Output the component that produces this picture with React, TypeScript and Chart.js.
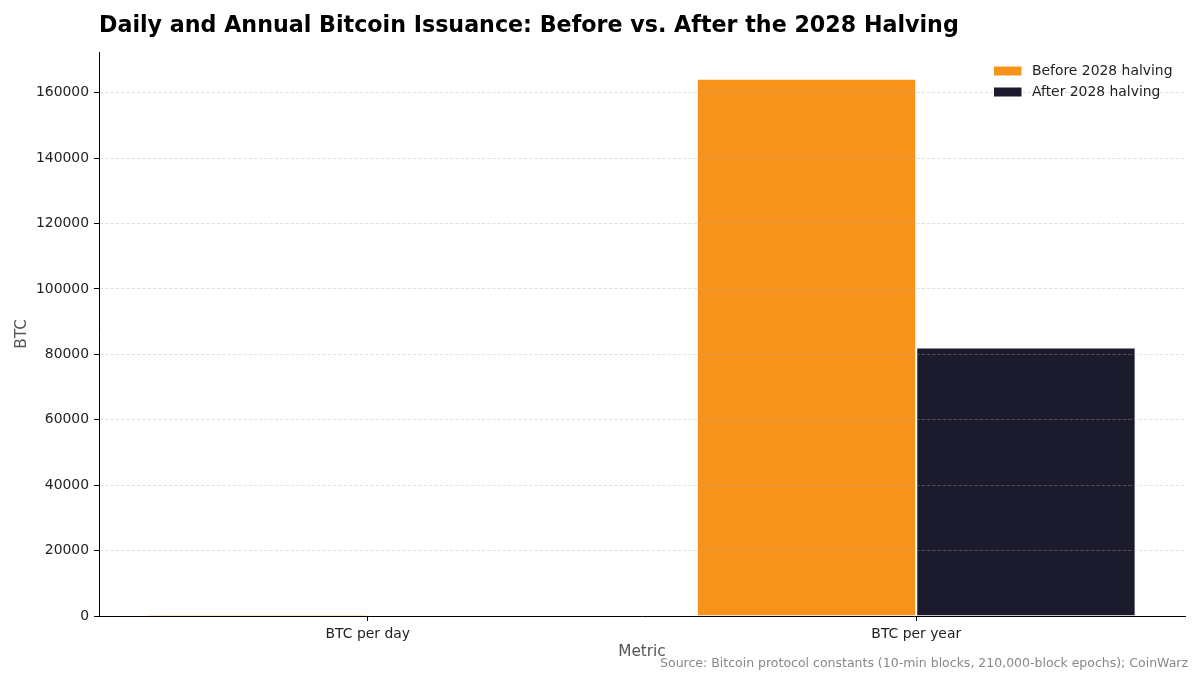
import { useEffect, useRef } from "react";
import { Chart, registerables } from "chart.js";
import type { ChartConfiguration, Plugin } from "chart.js";

Chart.register(...registerables);

const FONT = "'DejaVu Sans', Verdana, sans-serif";

const METRICS = ["BTC per day", "BTC per year"];
const beforeHalving = [450, 164250];
const afterHalving = [225, 82125];
const SERIES_LABELS = ["Before 2028 halving", "After 2028 halving"];
const SERIES_COLORS = ["#f7931a", "#1c1b2e"];
const Y_TICKS = [0, 20000, 40000, 60000, 80000, 100000, 120000, 140000, 160000];

const TITLE = "Daily and Annual Bitcoin Issuance: Before vs. After the 2028 Halving";
const SOURCE = "Source: Bitcoin protocol constants (10-min blocks, 210,000-block epochs); CoinWarz";

// title, footnote and the in-plot legend (matplotlib style)
const textPlugin: Plugin<"bar"> = {
  id: "textBits",
  afterDraw(chart) {
    const { ctx, chartArea } = chart;
    ctx.save();
    ctx.fillStyle = "#000";
    ctx.font = `bold 22.2px ${FONT}`;
    ctx.textAlign = "left";
    ctx.textBaseline = "middle";
    ctx.fillText(TITLE, chartArea.left, 26);

    ctx.fillStyle = "#888";
    ctx.font = `12.5px ${FONT}`;
    ctx.textAlign = "right";
    ctx.fillText(SOURCE, 1188, 664);

    // legend
    const bx = chartArea.right - 191;
    chart.data.datasets.forEach((ds, i) => {
      const cy = chartArea.top + 19 + i * 21;
      ctx.fillStyle = ds.backgroundColor as string;
      ctx.fillRect(bx, cy - 4.5, 27.5, 9);
      ctx.fillStyle = "#222";
      ctx.font = `13.9px ${FONT}`;
      ctx.textAlign = "left";
      ctx.fillText(String(ds.label), bx + 38, cy);
    });
    ctx.restore();
  },
};

export default function App() {
  const canvasRef = useRef<HTMLCanvasElement | null>(null);

  useEffect(() => {
    Chart.defaults.font.family = FONT;
    const ctx = canvasRef.current!.getContext("2d")!;

    const config: ChartConfiguration<"bar", number[], string> = {
      type: "bar",
      data: {
        labels: METRICS,
        datasets: [
          {
            label: SERIES_LABELS[0],
            data: beforeHalving,
            backgroundColor: SERIES_COLORS[0],
            borderColor: "#ffffff",
            borderWidth: 1,
            barPercentage: 1,
            categoryPercentage: 0.8,
          },
          {
            label: SERIES_LABELS[1],
            data: afterHalving,
            backgroundColor: SERIES_COLORS[1],
            borderColor: "#ffffff",
            borderWidth: 1,
            barPercentage: 1,
            categoryPercentage: 0.8,
          },
        ],
      },
      options: {
        responsive: true,
        maintainAspectRatio: false,
        animation: false,
        layout: { padding: { top: 52, right: 15, left: 0, bottom: 0 } },
        plugins: {
          legend: { display: false },
          tooltip: { enabled: false },
          title: { display: false },
        },
        scales: {
          x: {
            type: "category",
            offset: true,
            afterFit: (s) => { s.height = 59; },
            // matplotlib-like margins: x range -0.49 .. 1.49
            afterBuildTicks: (s: any) => { s._startValue = -0.49; s._valueRange = 1.98; },
            grid: { display: true, offset: false, drawOnChartArea: false, drawTicks: true, tickLength: 5, tickColor: "#000" },
            border: { display: true, color: "#000", width: 1, z: 2 },
            ticks: { color: "#222", font: { size: 13.9 }, padding: 5 },
            title: {
              display: true,
              text: "Metric",
              color: "#555",
              font: { size: 15.3 },
              padding: { top: 0, bottom: 13.8 },
            },
          },
          y: {
            type: "linear",
            min: 0,
            max: 172462,
            afterFit: (s) => { s.width = 99; },
            afterBuildTicks: (s) => { s.ticks = Y_TICKS.map((value) => ({ value })); },
            grid: {
              z: 1,
              color: "rgba(175,175,175,0.45)",
              lineWidth: 0.8,
              tickLength: 5,
              tickColor: "#000",
              tickWidth: 1,
            },
            border: { display: true, color: "#000", width: 1, dash: [3.5, 1.8], z: 2 },
            ticks: {
              color: "#222",
              font: { size: 13.9 },
              padding: 5,
              callback: (v) => String(v),
            },
            title: {
              display: true,
              text: "BTC",
              color: "#555",
              font: { size: 15.3 },
              padding: { top: 12.8, bottom: 0 },
            },
          },
        },
      },
      plugins: [textPlugin],
    };

    const chart = new Chart(ctx, config);
    return () => chart.destroy();
  }, []);

  return (
    <div style={{ position: "absolute", left: 0, top: 0, width: 1200, height: 675, background: "#fff" }}>
      <canvas ref={canvasRef} />
    </div>
  );
}
